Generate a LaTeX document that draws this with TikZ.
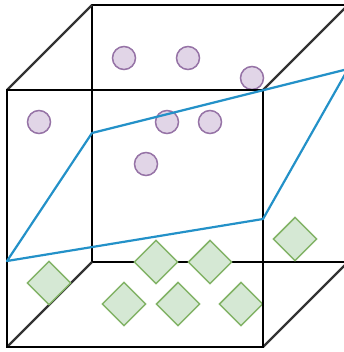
\documentclass[tikz,border=0pt]{standalone}
\definecolor{circfill}{HTML}{E1D5E7}
\definecolor{circdraw}{HTML}{9673A6}
\definecolor{diafill}{HTML}{D5E8D4}
\definecolor{diadraw}{HTML}{82B366}
\definecolor{planeblue}{RGB}{35,145,200}
\begin{document}
\begin{tikzpicture}[x=1pt,y=-1pt,
  edge/.style={black,line width=2.4pt},
  depth/.style={black!80,line width=2.4pt},
  plane/.style={planeblue,line width=2.2pt,line join=round},
  particle/.style={circle,draw=circdraw,fill=circfill,line width=1.5pt,minimum size=23pt,inner sep=0pt},
  crystal/.style={rectangle,rotate=45,draw=diadraw,fill=diafill,line width=1.5pt,minimum size=30.5pt,inner sep=0pt}]
\useasboundingbox (0,0) rectangle (344,352);
\clip (0,0) rectangle (344,352);
% back face
\coordinate (b1) at (92,5);
\coordinate (b2) at (348,5);
\coordinate (b3) at (348,262);
\coordinate (b4) at (92,262);
% front face
\coordinate (f1) at (7,90);
\coordinate (f2) at (263,90);
\coordinate (f3) at (263,347);
\coordinate (f4) at (7,347);
\draw[edge] (b1) -- (b2) -- (b3) -- (b4) -- cycle;
\draw[depth] (f1) -- (b1);
\draw[depth] (f2) -- (b2);
\draw[depth] (f3) -- (b3);
\draw[depth] (f4) -- (b4);
% particles
\node[particle] (c1) at (124,58) {};
\node[particle] (c2) at (188,58) {};
\node[particle] (c3) at (252,78) {};
\node[particle] (c4) at (39,122) {};
\node[particle] (c5) at (167,122) {};
\node[particle] (c6) at (210,122) {};
\node[particle] (c7) at (146,164) {};
% crystals
\node[crystal] (d1) at (49,283) {};
\node[crystal] (d2) at (124,304) {};
\node[crystal] (d3) at (156,262) {};
\node[crystal] (d4) at (178,304) {};
\node[crystal] (d5) at (210,262) {};
\node[crystal] (d6) at (241,304) {};
\node[crystal] (d7) at (295,239) {};
% front face
\draw[edge] (f1) -- (f2) -- (f3) -- (f4) -- cycle;
% plane
\coordinate (p1) at (7,261);
\coordinate (p2) at (92,133);
\coordinate (p3) at (348,69);
\coordinate (p4) at (263,219);
\draw[plane] (p1) -- (p2) -- (p3) -- (p4) -- cycle;
\end{tikzpicture}
\end{document}
